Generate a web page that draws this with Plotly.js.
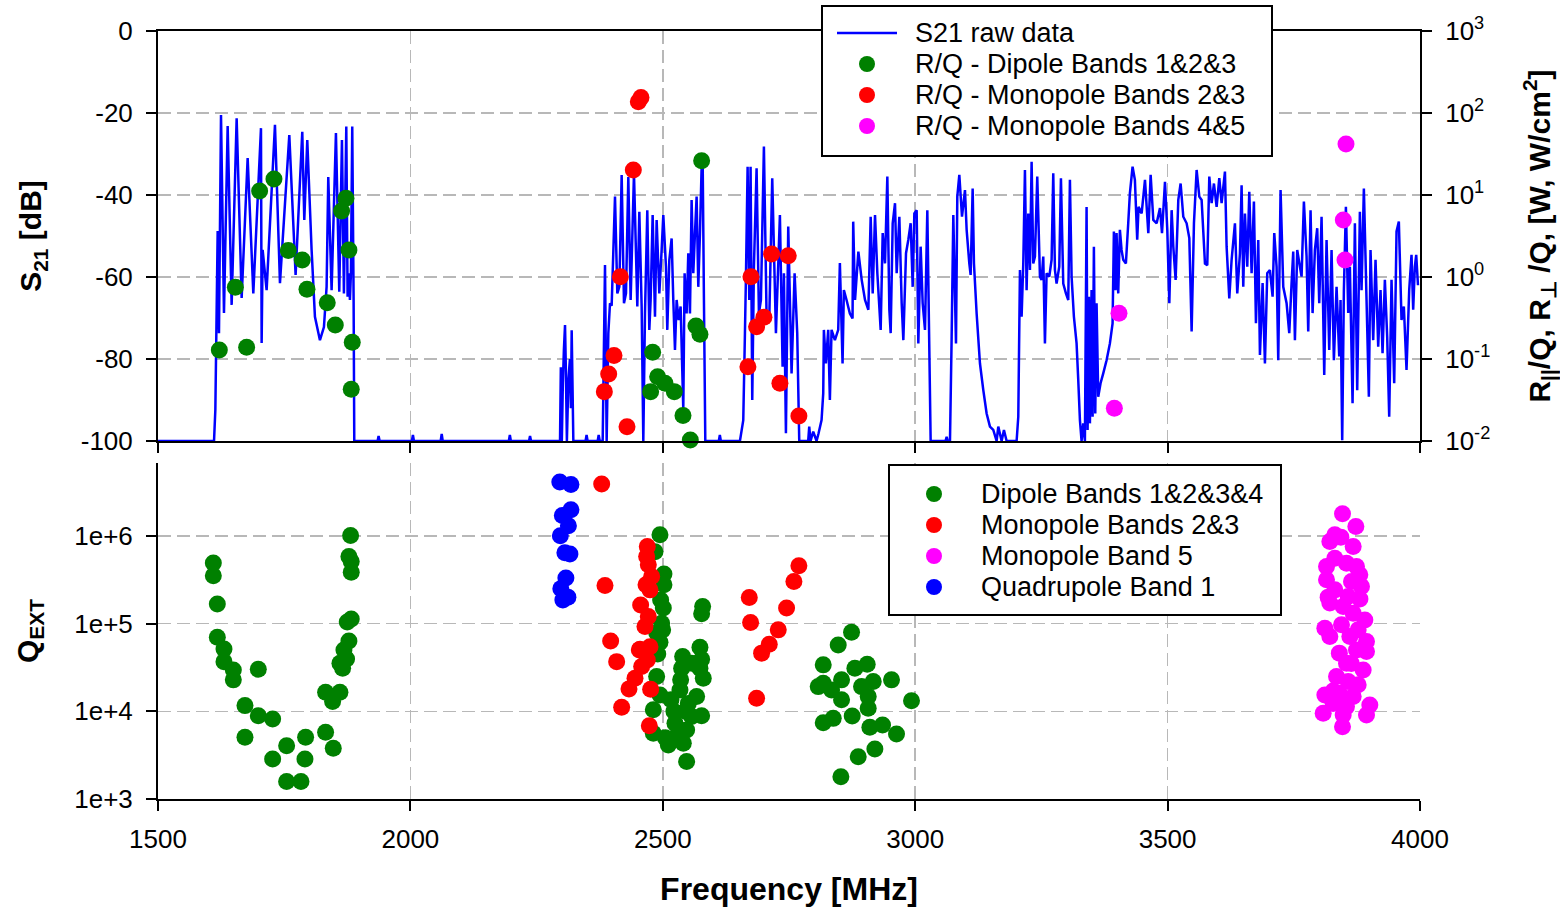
<!DOCTYPE html>
<html><head><meta charset="utf-8">
<script src="https://cdn.plot.ly/plotly-3.0.1.min.js"></script>
<style>html,body{margin:0;padding:0;background:#fff;}#chart{width:1560px;height:910px;}</style>
</head><body><div id="chart"></div>
<script>
// ---------- DATA ----------
const xTicks = [1500, 2000, 2500, 3000, 3500, 4000];
const xTickText = ['1500', '2000', '2500', '3000', '3500', '4000'];
const s21Ticks = [0, -20, -40, -60, -80, -100];
const s21TickText = ['0', '-20', '-40', '-60', '-80', '-100'];
const rqTicks = [0.01, 0.1, 1, 10, 100, 1000];
const rqTickText = ['10<sup>-2</sup>', '10<sup>-1</sup>', '10<sup>0</sup>', '10<sup>1</sup>', '10<sup>2</sup>', '10<sup>3</sup>'];
const qTicks = [1e3, 1e4, 1e5, 1e6];
const qTickText = ['1e+3', '1e+4', '1e+5', '1e+6'];

// S21 raw data: frequency [MHz] and transmission [dB]
const s21Freq = [
1500,1611,1613.6,1618.2,1620.8,1624.8,1630.7,1638,1645.9,1655.8,1665.7,1677.6,1688.8,1704,1705.3,1707.3,1715.2,1731.7,1741.6,1760.1,1772.6,1785.8,1789.8,1795.7,1804.3,1810.9,1820.8,1828.7,1834,1837.3,1843.9,1852.5,1859.1,1864.4,1868.3,1873,1875.6,1878.2,1880.2,1882.2,1884.8,1887.5,1888.8,
1935,1937,1939,2003,2005,2007,2060,2062,2064,2195,2197,2199,2235,2237,2239,
2293,2296.4,2298,2300,2302,2304,2306.3,2308,2310,2313,2316,2318,2319.5,2322.8,
2347,2349,2351,2371,2373,2375,
2380.9,2385.5,2388.8,2392.1,2395.4,2398.7,2405.3,2409.9,2413.9,2418.5,2423.1,2427.1,2431.7,2436.3,2442.9,2449.5,2453.5,2458.1,2461.4,2464.7,2469.3,2473.3,2475.9,2479.9,2484.5,2487.8,2493.1,2497.7,2501,2506.3,2508.9,2512.9,2517.5,2520.8,2524.1,2527.4,2531.4,2535.3,2540.6,2543.2,2547.2,2550.5,2553.8,2557.1,2560.4,2563.7,2567,2570.3,2573.6,2576.9,2578.9,2581.5,2584.2,
2611,2613,2615,
2652.8,2659.4,2662.7,2664.7,2668,2671.3,2673.9,2677.2,2680.5,2685.8,2690.4,2694.4,2700.3,2705.6,2710.9,2716.8,2724.1,2732,2737.3,2739.9,2743.9,2748.5,2755.1,2761.1,2766.3,2770.3,
2788,2790.1,2792.7,2798,2804.6,2808.6,2814.5,2817.8,2819.1,2823.1,2827.7,2831,2834.3,2840.9,2847.5,2850.8,2856.1,2858.7,2864,2870.6,2875.9,2877.2,
2880.8,2887.4,2894,2900.6,2907.2,2911.8,2915.8,2920.4,2925,2931.6,2935.6,2940.2,2944.8,2948.8,2951.4,2955.4,2960,2963.3,2968.6,2973.2,2976.5,2981.8,2986.4,2991,2995,2998.3,3002.9,3006.2,3010.8,3014.8,3019.4,3024,3028,3030.6,
3060,3062.3,3064.5,3068.9,3072.2,3075.5,3080.8,3083.4,3087.4,3092.7,3098.6,3101.9,3107.2,3109.8,3113.8,3116.4,3121.7,3128.3,3134.9,3141.5,3148.1,3154.7,3161.3,3164.6,3171.2,3175.8,3181.1,
3200.9,3204.2,3207.5,3210.8,3214.1,3217.4,3220.7,3224,3227.3,3230.6,3233.9,3237.2,3241.8,3247.1,3250.4,3253.7,3257,3260.3,3265.6,3270.2,3273.5,3276.8,3280.1,3285.4,3288.7,3293.3,3298.6,3303.2,3306.5,3309.8,3314.4,3319.7,3323,3326.3,3329.6,3332.9,3336.2,3339.5,3341.5,3344.1,3346.1,3349.4,3351.4,3354,3356.7,3359.3,3362.6,3367.2,3372.5,3379.1,3385.7,3391,3393.6,3396.9,3398.9,3402.2,3405.5,3408.8,3412.1,3417.4,3422,3425.3,3430.6,3435.2,3439.8,3442.5,
3448.6,3455.2,3461.8,3466.4,3471.7,3478.3,3484.9,3488.9,3494.8,3499.4,3503.4,3508,3511.3,3515.9,3521.2,3525.8,3531.1,3537.7,3543,3547.6,3552.2,3557.5,3562.8,3567.4,3574,3578.6,3582.6,3587.2,3591.8,3597.1,3602.4,3607,3613.6,3616.9,3622.2,3626.8,3633.4,3638,3643.3,3646.6,3649.9,3653.2,3657.8,3661.8,3666.4,3671,3675,3679.6,3682.9,3688.2,3692.8,3697.4,3702.7,3708,3711.3,3715.9,3719.2,3723.8,3729.1,3735.7,3741,3745.6,3748.9,3752.2,3756.8,3762.1,3765.4,3770,3775.3,3778.6,3783.2,3787.2,3791.8,3796.4,3800.4,3805,3810.3,3814.9,3820.2,3824.8,3829.4,3834.7,3840,3842.6,3845.9,3849.2,3853.2,3857.8,3861.1,3866.4,3871,3875.6,3880.9,3884.2,3888.8,3894.1,3898.7,3902,3907.3,3911.9,3917.2,3921.8,3925.8,3930.4,3935,3939,3943.6,3948.9,3953.5,3958.1,3963.4,3968,3973.3,3978.6,3983.2,3986.5,3989.8,3992.5,3996
];
const s21dB = [
-100,-100,-92.4,-48.8,-73.7,-20.5,-68.8,-23.2,-66.8,-21.3,-65.1,-31,-64,-23.7,-76.1,-53.4,-63.2,-22.9,-61.5,-25.4,-59.5,-24.6,-46.1,-26.6,-53.4,-69.7,-75.4,-72.2,-62.4,-35.6,-63.2,-24.9,-63.6,-26.6,-64,-23.3,-64.8,-59.1,-65.6,-59.1,-23.3,-65.6,-100,
-100,-98.8,-100,-100,-98.5,-100,-100,-98.3,-100,-100,-98.5,-100,-100,-98.8,-100,
-100,-100,-82,-100,-86,-78,-71.7,-82.8,-100,-85,-80,-92,-73,-100,
-100,-98.5,-100,-100,-98.5,-100,
-100,-57.1,-100,-73.7,-66.4,-67,-40.4,-64,-62.4,-35.1,-66.4,-64,-35.6,-65.6,-34.7,-67.2,-44.1,-67.2,-100,-68.9,-43.7,-72.9,-65.6,-44.9,-69.7,-46.1,-64,-53.4,-44.9,-57.5,-72.9,-55.9,-50.6,-65.6,-77.8,-65.6,-70.5,-67.2,-92.4,-59.1,-68.9,-54.2,-68.9,-41.2,-59.1,-49.4,-40.4,-62.4,-49.4,-33.1,-30.6,-65.6,-100,
-100,-98.5,-100,
-100,-94.9,-73.7,-60,-33.1,-65.6,-33.1,-90,-57.5,-33.5,-68.9,-65.6,-28.2,-69.7,-70.5,-35.9,-73.7,-44.9,-81.9,-59.1,-98.1,-47.7,-83.5,-59.1,-73.7,-100,
-100,-96.5,-100,-97.7,-100,-98.1,-94.9,-88.4,-72.9,-81.1,-72.9,-90,-72.9,-75.4,-72.9,-56.6,-81.1,-63.2,-65.6,-68.9,-70.1,-46.5,
-65.6,-53.8,-60.7,-65.6,-68,-45.3,-64,-44.9,-59.1,-72.9,-49.3,-56.7,-35.5,-68,-73.7,-46.9,-42,-59.1,-45.3,-66.4,-75.4,-54.2,-50.9,-46.9,-62.4,-44.5,-43.7,-76.2,-52.6,-66.4,-72.9,-43.7,-77.8,-100,
-100,-99,-100,-100,-74.6,-44.9,-76.2,-40.4,-35.1,-45.3,-38.8,-48.5,-56.7,-59.5,-38.4,-56.7,-68.9,-81.1,-87.6,-93.3,-96.5,-97.3,-100,-96.5,-100,-97.3,-100,
-100,-94.1,-58.3,-69.7,-56.7,-33.9,-63.2,-44.5,-58.3,-31.9,-56.7,-55,-35.5,-59.9,-60.7,-55,-76.2,-59.1,-59.9,-55.8,-34.7,-58.3,-61.6,-57.5,-35.9,-61.6,-64,-65.6,-36.3,-59.9,-69.7,-76.2,-85.1,-94.9,-100,-95.7,-100,-42.9,-97.3,-64.8,-95.7,-63.2,-94.1,-52.6,-93.3,-66.4,-89.2,-85.9,-83.5,-80.3,-76.2,-71.3,-48.9,-63.2,-49.3,-64,-48.5,-53.4,-55.8,-56.7,-46.9,-39.6,-33.1,-36.3,-50.9,-42.9,
-44.5,-36.3,-49.3,-35.1,-46.1,-46.9,-43.2,-49.3,-36.8,-48.5,-66.4,-43.7,-52.6,-60.7,-41.2,-37.2,-45.3,-46.9,-50.5,-73.3,-46.9,-33.9,-40.4,-41.2,-56.7,-57.1,-35.5,-42,-37.2,-42.9,-35.9,-42,-34.3,-52.6,-65.2,-55.8,-46.9,-64,-54.2,-37.6,-62.4,-44.5,-57.5,-39.2,-59.1,-41.6,-71.3,-51,-79,-61.5,-81.1,-59.1,-58.3,-64.8,-49.3,-57.5,-80.3,-38.8,-62.4,-66.4,-73.7,-61.5,-53.8,-75.4,-53.4,-57.5,-59.9,-41.6,-55,-73.3,-43.7,-68.8,-53.4,-48.1,-66.4,-45.3,-83.9,-51,-77.8,-53.4,-80.3,-62.4,-79.4,-65.6,-99.8,-63.2,-42.9,-68.8,-57.5,-90.8,-46.9,-87.6,-44.1,-63.2,-38.4,-65.6,-89.2,-53.4,-75.4,-55.8,-77,-63.2,-78.6,-60.7,-74.6,-94.1,-60.7,-85.9,-48.9,-46.5,-70.5,-67.2,-82.7,-63.2,-54.6,-68,-57.5,-54.6,-62
];

// R/Q values (top panel, right log axis)
const dipoleRQFreq = [1621.5,1653.2,1675.6,1701.3,1729.7,1758.1,1785.8,1795.1,1835.3,1851.2,1863.7,1872.3,1878.2,1884.8,1882.8,2576.9,2479.9,2489.8,2504.3,2475.9,2522.8,2540,2554.5,2565.7,2573.6];
const dipoleRQ = [0.129,0.748,0.139,11.2,15.7,2.10,1.61,0.708,0.486,0.260,6.38,9.12,2.13,0.160,0.0427,26.2,0.121,0.0608,0.0505,0.040,0.040,0.0204,0.0103,0.252,0.200];
const mono23RQFreq = [2451.5,2456.8,2441.6,2415.9,2403.3,2392.8,2384.2,2429.1,2674.6,2685.8,2700.3,2715.5,2748.5,2668.6,2732,2769.6];
const mono23RQ = [137,155,20.2,1.01,0.11,0.0656,0.04,0.0149,1.01,0.248,0.322,1.91,1.82,0.0805,0.0505,0.0202];
const mono45RQFreq = [3853.4,3848.1,3851.4,3403.7,3394.5];
const mono45RQ = [41.9,4.96,1.61,0.361,0.0251];

// Q_EXT values (bottom panel)
const dipoleQFreq = [1609.6,1609.6,1617.5,1617.5,1630.7,1630.7,1649.2,1649.2,1698.7,1672.3,1698.7,1727.1,1672.3,1727.1,1754.8,1792.4,1791.1,1754.8,1783.2,1832,1847.2,1832,1860.4,1845.9,1865.7,1860.4,1873.6,1868.3,1878.2,1874.9,1882.8,1882.8,1878.2,1882.8,1881.5,
2494.4,2484.5,2502.3,2502.3,2495.7,2497.7,2499.7,2494.4,2487.8,2481.2,2481.2,2510.9,2494.4,2516.2,2524.1,2540.6,2547.2,2539.3,2537.3,2535.3,2567,2550.5,2576.9,2557.1,2547.2,2573.6,2576.9,2573.6,2580.2,2557.1,2578.9,2576.9,2534,2488,2501,2490,2522,2505,2545,2530,
2873.9,2847.5,2817.8,2880.5,2904.9,2817.8,2834.3,2854.1,2916.8,2953.1,2893.7,2854.1,2906.9,2906.9,2992.7,2875.2,2817.8,2837.6,2910.2,2935.3,2963,2920.1,2887.1,2852.8,2807.9];
const dipoleQ = [4.89e5,3.5e5,1.67e5,6.98e4,5.14e4,3.68e4,2.96e4,2.28e4,3.01e4,1.16e4,8.9e3,8.18e3,5.05e3,2.86e3,4.05e3,5.05e3,2.86e3,1.58e3,1.58e3,5.76e3,3.78e3,1.65e4,1.65e4,1.29e4,3.1e4,3.52e4,3.95e4,5.0e4,6.34e4,1.04e5,1.13e5,3.85e5,5.81e5,5.1e5,1.01e6,
1.03e6,6.6e5,3.68e5,2.76e5,1.86e5,1.01e5,8.47e4,6.13e4,2.49e4,1.04e4,5.61e3,4.13e3,1.53e4,1.35e4,7.3e3,4.32e3,2.67e3,4.2e4,3.1e4,2.28e4,1.47e4,1.23e4,8.9e3,8.7e3,6.12e3,5.37e4,3.92e4,3.1e4,2.38e4,3.53e4,1.56e5,1.29e5,1.75e4,7.8e4,1.5e5,4.5e4,1.0e4,5.0e3,1.0e4,5.5e3,
7.97e4,5.71e4,3.38e4,3.1e4,3.44e4,2.09e4,1.75e4,2.28e4,2.18e4,2.28e4,1.91e4,1.35e4,1.47e4,1.08e4,1.32e4,8.85e3,7.4e3,8.3e3,6.57e3,6.98e3,5.51e3,3.72e3,3.04e3,1.79e3,1.91e4];
const mono23QFreq = [2378.9,2385.5,2396.7,2408.6,2418.5,2433,2444.9,2453.5,2469.3,2468,2471.3,2477.9,2466.7,2474.6,2456.1,2471.3,2464.7,2454.8,2474.6,2469.3,2458.1,2475.9,2473.3,
2769.6,2759.7,2671.3,2745.2,2673.9,2728.7,2710.9,2695.7,2685.8];
const mono23Q = [3.89e6,2.71e5,6.34e4,3.68e4,1.11e4,1.8e4,2.38e4,5.01e4,7.55e5,5.8e5,4.67e5,3.43e5,2.76e5,2.42e5,1.63e5,1.2e5,9.23e4,5.1e4,5.45e4,3.85e4,3.23e4,1.78e4,6.85e3,
4.55e5,3.01e5,1.98e5,1.5e5,1.03e5,8.47e4,5.82e4,4.6e4,1.41e4];
const mono5QFreq = [3846.5,3872.9,3831.3,3843.2,3821.4,3867.6,3831.3,3814.8,3874.2,3854.4,3880.8,3814.8,3864.3,3884.1,3831.3,3857.7,3821.4,3847.8,3867.6,3890.7,3811.5,3844.5,3877.5,3821.4,3861,3894,3840.2,3874.2,3894,3854.4,3887.4,3834.6,3857.7,3877.5,3811.5,3840.2,3867.6,3827.9,3854.4,3900.6,3808.2,3847.8,3894,3846.5,3818,3881,3864,3828];
const mono5Q = [1.78e6,1.28e6,1.03e6,9.66e5,8.6e5,7.55e5,5.56e5,4.46e5,4.46e5,4.88e5,3.59e5,3.15e5,3.01e5,2.64e5,2.42e5,2.03e5,1.71e5,1.56e5,1.31e5,1.1e5,8.85e4,9.66e4,8.47e4,7.11e4,7.11e4,6.23e4,4.6e4,5.0e4,4.8e4,3.53e4,2.96e4,2.49e4,2.18e4,2.0e4,1.53e4,1.6e4,1.47e4,1.23e4,1.13e4,1.18e4,9.49e3,9.08e3,9.08e3,6.68e3,2.0e5,1.9e5,3.5e4,1.7e4];
const quadQFreq = [2296,2318,2318,2301,2313,2297,2306,2316,2308,2298,2312,2302];
const quadQ = [4.1e6,3.85e6,1.98e6,1.7e6,1.3e6,1.0e6,6.4e5,6.2e5,3.3e5,2.5e5,2.0e5,1.85e5];

const legendTop = ['S21 raw data', 'R/Q - Dipole Bands 1&2&3', 'R/Q - Monopole Bands 2&3', 'R/Q - Monopole Bands 4&5'];
const legendBottom = ['Dipole Bands 1&2&3&4', 'Monopole Bands 2&3', 'Monopole Band 5', 'Quadrupole Band 1'];

// ---------- STYLE / LAYOUT ----------
const GREEN = '#008000', RED = '#ff0000', MAG = '#ff00ff', BLUE = '#0000ff';
const FONT = 'Liberation Sans, Arial, Helvetica, sans-serif';
const MS = 17;
const mk = c => ({color: c, size: MS, line: {width: 0}});

const traces = [
  {x: s21Freq, y: s21dB, xaxis: 'x', yaxis: 'y', type: 'scatter', mode: 'lines', name: legendTop[0],
   line: {color: BLUE, width: 2.5, simplify: false}},
  {x: dipoleRQFreq, y: dipoleRQ, xaxis: 'x', yaxis: 'y2', type: 'scatter', mode: 'markers', name: legendTop[1], marker: mk(GREEN), cliponaxis: false},
  {x: mono23RQFreq, y: mono23RQ, xaxis: 'x', yaxis: 'y2', type: 'scatter', mode: 'markers', name: legendTop[2], marker: mk(RED), cliponaxis: false},
  {x: mono45RQFreq, y: mono45RQ, xaxis: 'x', yaxis: 'y2', type: 'scatter', mode: 'markers', name: legendTop[3], marker: mk(MAG), cliponaxis: false},
  {x: dipoleQFreq, y: dipoleQ, xaxis: 'x2', yaxis: 'y3', type: 'scatter', mode: 'markers', name: legendBottom[0], marker: mk(GREEN), cliponaxis: false},
  {x: mono23QFreq, y: mono23Q, xaxis: 'x2', yaxis: 'y3', type: 'scatter', mode: 'markers', name: legendBottom[1], marker: mk(RED), cliponaxis: false},
  {x: mono5QFreq, y: mono5Q, xaxis: 'x2', yaxis: 'y3', type: 'scatter', mode: 'markers', name: legendBottom[2], marker: mk(MAG), cliponaxis: false},
  {x: quadQFreq, y: quadQ, xaxis: 'x2', yaxis: 'y3', type: 'scatter', mode: 'markers', name: legendBottom[3], marker: mk(BLUE), cliponaxis: false}
];

const L = 158, R = 1420, T = 31, B = 799;
const px2x = p => (p - L) / (R - L);
const py2y = p => (B - p) / (B - T);
const topDomain = [py2y(441), 1];
const botDomain = [0, py2y(463)];

const grid = {showgrid: true, gridcolor: '#b8b8b8', gridwidth: 1.5, griddash: '13px,6px'};
const axLine = {showline: true, linecolor: 'black', linewidth: 2, ticks: 'outside', ticklen: 10, tickwidth: 2, tickcolor: 'black', zeroline: false};
const tickFont = {family: FONT, size: 26, color: 'black'};
const titleFont = {family: FONT, size: 30, color: 'black'};
const legendFont = {family: FONT, size: 27, color: 'black'};

const layout = {
  width: 1560, height: 910,
  margin: {l: L, r: 1560 - R, t: T, b: 910 - B},
  paper_bgcolor: 'white', plot_bgcolor: 'white',
  font: {family: FONT, size: 26, color: 'black'},
  showlegend: false,
  hovermode: false,
  xaxis: Object.assign({}, axLine, grid, {anchor: 'y', range: [1500, 4000], tickvals: xTicks, showticklabels: false, mirror: true}),
  yaxis: Object.assign({}, axLine, grid, {domain: topDomain, anchor: 'x', range: [-100, 0], tickvals: s21Ticks, ticktext: s21TickText, tickfont: tickFont, ticklabelstandoff: 8,
    title: {text: '<b>S<sub>21</sub> [dB]</b>', font: titleFont, standoff: 30}}),
  yaxis2: Object.assign({}, axLine, {overlaying: 'y', side: 'right', anchor: 'x', type: 'log', range: [-2, 3], showgrid: false, tickvals: rqTicks, ticktext: rqTickText, tickfont: tickFont, ticklabelstandoff: 8,
    title: {text: '<b>R<sub>||</sub>/Q, R<sub>⊥</sub> /Q, [W, W/cm<sup>2</sup>]</b>', font: titleFont, standoff: 40}}),
  xaxis2: Object.assign({}, axLine, grid, {anchor: 'y3', range: [1500, 4000], tickvals: xTicks, ticktext: xTickText, tickfont: tickFont, ticklabelstandoff: 6,
    title: {text: '<b>Frequency [MHz]</b>', font: {family: FONT, size: 32, color: 'black'}, standoff: 24}}),
  yaxis3: Object.assign({}, axLine, grid, {domain: botDomain, anchor: 'x2', type: 'log', range: [3, 6.83], tickvals: qTicks, ticktext: qTickText, tickfont: tickFont, ticklabelstandoff: 8,
    title: {text: '<b>Q<sub>EXT</sub></b>', font: titleFont, standoff: 27}}),
  shapes: [], annotations: []
};

// legend boxes drawn in paper coordinates
function addBox(x0, y0, x1, y1) {
  layout.shapes.push({type: 'rect', xref: 'paper', yref: 'paper', x0: px2x(x0), x1: px2x(x1), y0: py2y(y1), y1: py2y(y0),
    line: {color: 'black', width: 2}, fillcolor: 'white', layer: 'above'});
}
function addDot(cx, cy, color) {
  layout.shapes.push({type: 'circle', xref: 'paper', yref: 'paper', xsizemode: 'pixel', ysizemode: 'pixel',
    xanchor: px2x(cx), yanchor: py2y(cy), x0: -8, x1: 8, y0: -8, y1: 8, fillcolor: color, line: {width: 0}, layer: 'above'});
}
function addText(x, y, txt) {
  layout.annotations.push({xref: 'paper', yref: 'paper', x: px2x(x), y: py2y(y), xanchor: 'left', yanchor: 'middle',
    text: txt, showarrow: false, font: legendFont});
}
addBox(822, 6, 1272, 156);
layout.shapes.push({type: 'line', xref: 'paper', yref: 'paper', x0: px2x(837), x1: px2x(897), y0: py2y(33), y1: py2y(33), line: {color: BLUE, width: 2.5}, layer: 'above'});
const topRows = [33, 64, 95, 126];
const topColors = [null, GREEN, RED, MAG];
for (let i = 0; i < 4; i++) {
  if (topColors[i]) addDot(867, topRows[i], topColors[i]);
  addText(913, topRows[i], legendTop[i]);
}
addBox(889, 465, 1281, 615);
const botRows = [494, 525, 556, 587];
const botColors = [GREEN, RED, MAG, BLUE];
for (let i = 0; i < 4; i++) {
  addDot(934, botRows[i], botColors[i]);
  addText(979, botRows[i], legendBottom[i]);
}

Plotly.newPlot('chart', traces, layout, {displayModeBar: false, staticPlot: true});
</script></body></html>
